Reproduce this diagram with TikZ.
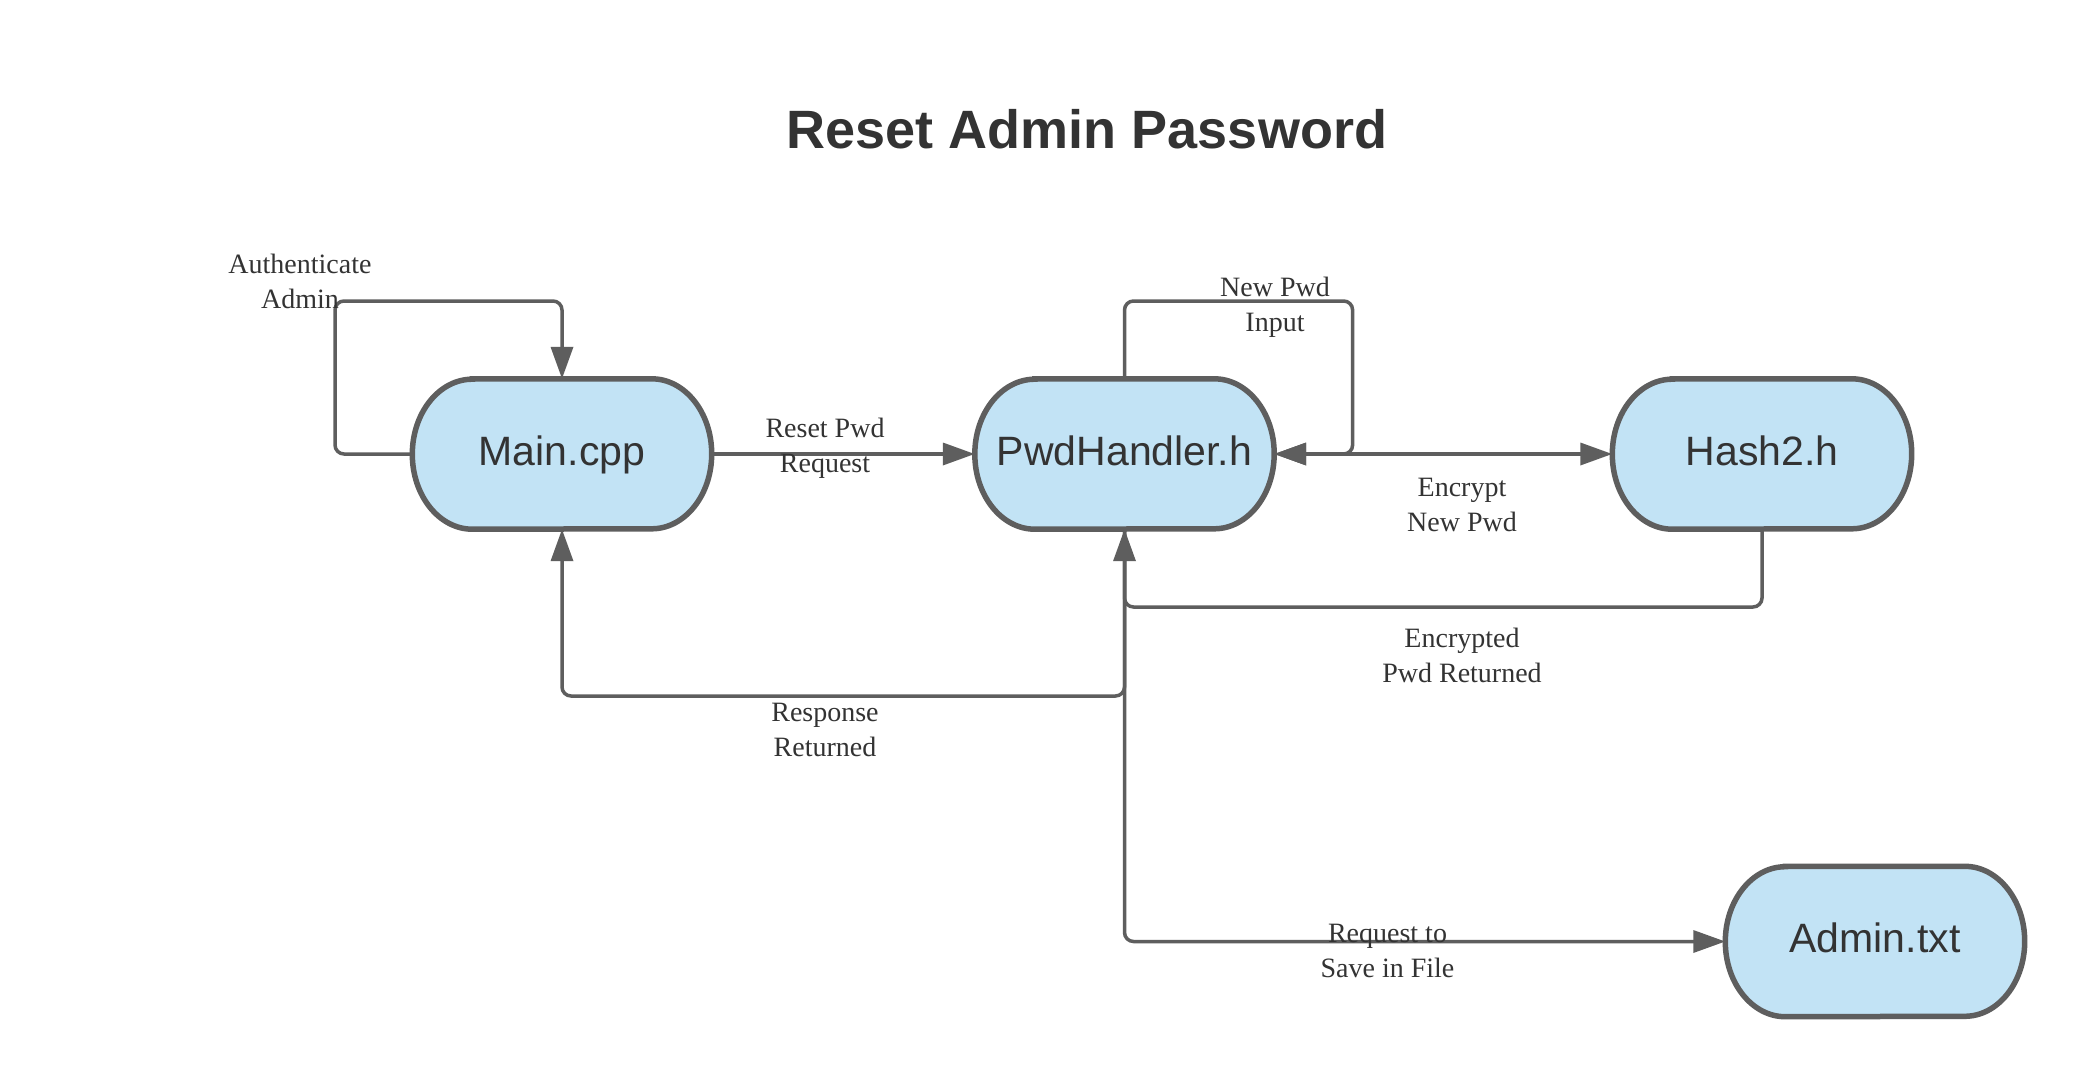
\documentclass[tikz,border=0pt]{standalone}
\usepackage{fontspec}
\setmainfont{Liberation Serif}
\setsansfont{Liberation Sans}
\usetikzlibrary{arrows.meta,backgrounds}
\definecolor{linegray}{HTML}{5E5E5E}
\definecolor{boxfill}{HTML}{C2E3F5}
\definecolor{txt}{HTML}{333333}
\tikzset{
  box/.style={minimum width=299pt, minimum height=150pt, inner sep=0pt, text=txt,
    text height=30pt, text depth=8pt,
    font=\sffamily\fontsize{41}{49}\selectfont},
  boxline/.style={draw=linegray, line width=5.5pt, fill=boxfill},
  conn/.style={draw=linegray, line width=3.5pt, rounded corners=9pt,
    -{Triangle[length=32pt,width=22pt]}},
  biconn/.style={draw=linegray, line width=3.5pt,
    {Triangle[length=32pt,width=22pt]}-{Triangle[length=32pt,width=22pt]}},
  lbl/.style={align=center, text=txt, inner sep=0pt,
    font=\rmfamily\fontsize{28}{35}\selectfont},
}
\begin{document}
\begin{tikzpicture}[x=1pt,y=-1pt]
\useasboundingbox (0,0) rectangle (2100,1091);
\node[text=txt, font=\sffamily\bfseries\fontsize{54}{64}\selectfont] (title) at (1087,129) {Reset Admin Password};
\node[box] (main) at (562,454) {Main.cpp};
\node[box] (pwd) at (1124.5,454) {PwdHandler.h};
\node[box] (hash) at (1762,454) {Hash2.h};
\node[box] (admin) at (1875,941.5) {Admin.txt};
\begin{scope}[on background layer]
\fill[white] (0,0) rectangle (2100,1091);
\foreach \n in {main,pwd,hash,admin}{
  \path[boxline] ([xshift=60pt]\n.north west) -- ([xshift=-60pt]\n.north east)
    arc[start angle=90,end angle=-90,x radius=60pt,y radius=75pt]
    -- ([xshift=60pt]\n.south west)
    arc[start angle=270,end angle=90,x radius=60pt,y radius=75pt] -- cycle;
}
\end{scope}
% connectors
\draw[conn] (main.west) -| (335,301) -| (main.north);
\draw[conn] (main.east) -- (pwd.west);
\draw[conn] (pwd.north) |- (1352.6,301) |- (pwd.east);
\draw[biconn] (pwd.east) -- (hash.west);
\draw[conn] (hash.south) |- (1124.5,607) -- (pwd.south);
\draw[conn] (pwd.south) |- (562,696) -- (main.south);
\draw[conn] (pwd.south) |- (admin.west);
% labels
\node[lbl] (lauth) at (300,281) {Authenticate\\Admin};
\node[lbl] (lreset) at (825,448) {Reset Pwd\\Request};
\node[lbl] (lnew) at (1275,307) {New Pwd\\Input};
\node[lbl] (lenc) at (1462,505) {Encrypt\\New Pwd};
\node[lbl] (lencd) at (1462,655) {Encrypted\\Pwd Returned};
\node[lbl] (lresp) at (825,730) {Response\\Returned};
\node[lbl] (lreq) at (1387.5,951) {Request to\\Save in File};
\end{tikzpicture}
\end{document}
